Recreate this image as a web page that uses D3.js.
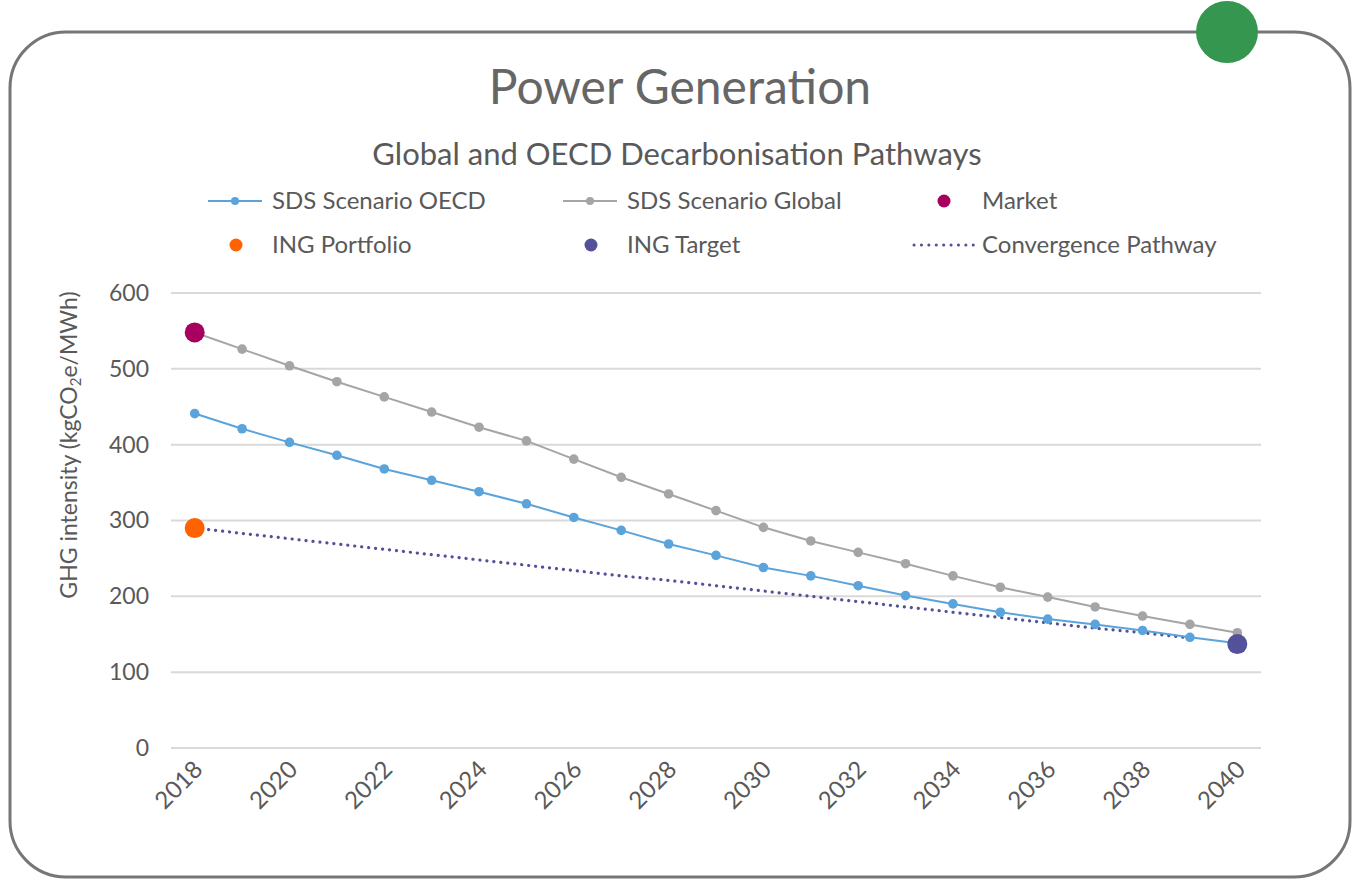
<!DOCTYPE html>
<html>
<head>
<meta charset="utf-8">
<script src="https://cdn.jsdelivr.net/npm/d3@7"></script>
<style>
  body { margin: 0; background: #fff; }
  svg { display: block; font-family: Lato, "Open Sans", sans-serif; }
</style>
</head>
<body>
<div id="chart"></div>
<script>
// data
const years = d3.range(2018, 2041);
const xTickLabels = ["2018", "2020", "2022", "2024", "2026", "2028", "2030", "2032", "2034", "2036", "2038", "2040"];
const yTicks = [0, 100, 200, 300, 400, 500, 600];

const sdsOecd = [441, 421, 403, 386, 368, 353, 338, 322, 304, 287, 269, 254, 238, 227, 214, 201, 190, 179, 170, 163, 155, 146, 138];
const sdsGlobal = [548, 526, 504, 483, 463, 443, 423, 405, 381, 357, 335, 313, 291, 273, 258, 243, 227, 212, 199, 186, 174, 163, 152];
const convergence = [290, 283, 276, 269, 262, 255, 248, 241, 234, 227, 221, 214, 207, 200, 193, 186, 179, 172, 165, 158, 152, 145];
const market = [{ year: 2018, value: 548 }];
const portfolio = [{ year: 2018, value: 290 }];
const target = [{ year: 2040, value: 137 }];

const W = 1359, H = 880;
const svg = d3.select("#chart").append("svg")
    .attr("width", W)
    .attr("height", H);

// frame + green badge
svg.append("rect")
    .attr("x", 10).attr("y", 32)
    .attr("width", 1340).attr("height", 845)
    .attr("rx", 56).attr("ry", 56)
    .attr("fill", "none")
    .attr("stroke", "#767676")
    .attr("stroke-width", 3);

svg.append("circle")
    .attr("cx", 1227).attr("cy", 32).attr("r", 31)
    .attr("fill", "#34964f");

// titles
svg.append("text")
    .attr("x", 680).attr("y", 104)
    .attr("text-anchor", "middle")
    .attr("fill", "#666")
    .attr("font-size", 48)
    .text("Power Generation");

svg.append("text")
    .attr("x", 677).attr("y", 165)
    .attr("text-anchor", "middle")
    .attr("fill", "#595959")
    .attr("font-size", 31)
    .text("Global and OECD Decarbonisation Pathways");

// scales
const x = d3.scalePoint()
    .domain(years)
    .range([171, 1261])
    .padding(0.5);

const y = d3.scaleLinear()
    .domain([0, 600])
    .range([748, 293]);

// gridlines
svg.append("g")
    .selectAll("line")
    .data(yTicks)
    .join("line")
    .attr("x1", 171).attr("x2", 1261)
    .attr("y1", d => y(d)).attr("y2", d => y(d))
    .attr("stroke", "#d9d9d9")
    .attr("stroke-width", 2);

// y axis
const yAxis = svg.append("g")
    .attr("transform", "translate(171,0)")
    .call(d3.axisLeft(y).tickValues(yTicks).tickSize(0).tickPadding(22));
yAxis.select(".domain").remove();
yAxis.selectAll("text")
    .attr("fill", "#595959")
    .attr("font-size", 23)
    .attr("font-family", "Lato, sans-serif");

// x axis
const xAxis = svg.append("g")
    .attr("transform", "translate(0,748)")
    .call(d3.axisBottom(x).tickValues(xTickLabels.map(Number)).tickSize(0).tickFormat(d3.format("d")));
xAxis.select(".domain").remove();
xAxis.selectAll("text")
    .attr("fill", "#595959")
    .attr("font-size", 24)
    .attr("font-family", "Lato, sans-serif")
    .attr("text-anchor", "end")
    .attr("transform", "translate(-5,9) rotate(-45)")
    .attr("dy", "0.7em");

// y axis title
const yTitle = svg.append("text")
    .attr("transform", "translate(77,445) rotate(-90)")
    .attr("text-anchor", "middle")
    .attr("fill", "#595959")
    .attr("font-size", 23);
yTitle.append("tspan").text("GHG intensity (kgCO");
yTitle.append("tspan").attr("font-size", 15).attr("dy", 4).text("2");
yTitle.append("tspan").attr("dy", -4).text("e/MWh)");

// lines
const line = d3.line()
    .x((d, i) => x(years[i]))
    .y(d => y(d));

svg.append("path")
    .datum(convergence)
    .attr("fill", "none")
    .attr("stroke", "#525199")
    .attr("stroke-width", 3.2)
    .attr("stroke-linecap", "round")
    .attr("stroke-dasharray", "0.1,6.9")
    .attr("d", line);

svg.append("path")
    .datum(sdsGlobal)
    .attr("fill", "none")
    .attr("stroke", "#a5a5a5")
    .attr("stroke-width", 2)
    .attr("d", line);

svg.append("g")
    .selectAll("circle")
    .data(sdsGlobal)
    .join("circle")
    .attr("cx", (d, i) => x(years[i]))
    .attr("cy", d => y(d))
    .attr("r", 4.8)
    .attr("fill", "#a5a5a5");

svg.append("path")
    .datum(sdsOecd)
    .attr("fill", "none")
    .attr("stroke", "#5ba3db")
    .attr("stroke-width", 2)
    .attr("d", line);

svg.append("g")
    .selectAll("circle")
    .data(sdsOecd)
    .join("circle")
    .attr("cx", (d, i) => x(years[i]))
    .attr("cy", d => y(d))
    .attr("r", 4.8)
    .attr("fill", "#5ba3db");

// big markers
const bigDots = [
    { data: market, color: "#a8005f" },
    { data: portfolio, color: "#ff6200" },
    { data: target, color: "#525199" }
];
bigDots.forEach(s => {
    svg.append("g")
        .selectAll("circle")
        .data(s.data)
        .join("circle")
        .attr("cx", d => x(d.year))
        .attr("cy", d => y(d.value))
        .attr("r", 10)
        .attr("fill", s.color);
});

// legend
const legendItems = [
    { name: "SDS Scenario OECD", type: "line", color: "#5ba3db", lx: 208, row: 0 },
    { name: "SDS Scenario Global", type: "line", color: "#a5a5a5", lx: 563, row: 0 },
    { name: "Market", type: "dot", color: "#a8005f", lx: 918, row: 0 },
    { name: "ING Portfolio", type: "dot", color: "#ff6200", lx: 208, row: 1 },
    { name: "ING Target", type: "dot", color: "#525199", lx: 563, row: 1 },
    { name: "Convergence Pathway", type: "dash", color: "#525199", lx: 914, row: 1 }
];

const legend = svg.append("g")
    .selectAll("g")
    .data(legendItems)
    .join("g")
    .attr("transform", d => `translate(${d.lx},${201 + d.row * 44})`);

legend.filter(d => d.type === "line").append("line")
    .attr("x1", 0).attr("x2", 54)
    .attr("stroke", d => d.color)
    .attr("stroke-width", 2);
legend.filter(d => d.type === "line").append("circle")
    .attr("cx", 27).attr("r", 4)
    .attr("fill", d => d.color);
legend.filter(d => d.type === "dot").append("circle")
    .attr("cx", d => d.row === 0 ? 26 : 28).attr("r", 6.5)
    .attr("fill", d => d.color);
legend.filter(d => d.type === "dash").append("line")
    .attr("x1", 0).attr("x2", 60)
    .attr("stroke", d => d.color)
    .attr("stroke-width", 3)
    .attr("stroke-linecap", "round")
    .attr("stroke-dasharray", "0.1,7.3");

legend.append("text")
    .attr("x", d => d.type === "dash" ? 68 : 64)
    .attr("dy", "0.35em")
    .attr("fill", "#595959")
    .attr("font-size", 24)
    .text(d => d.name);
</script>
</body>
</html>
